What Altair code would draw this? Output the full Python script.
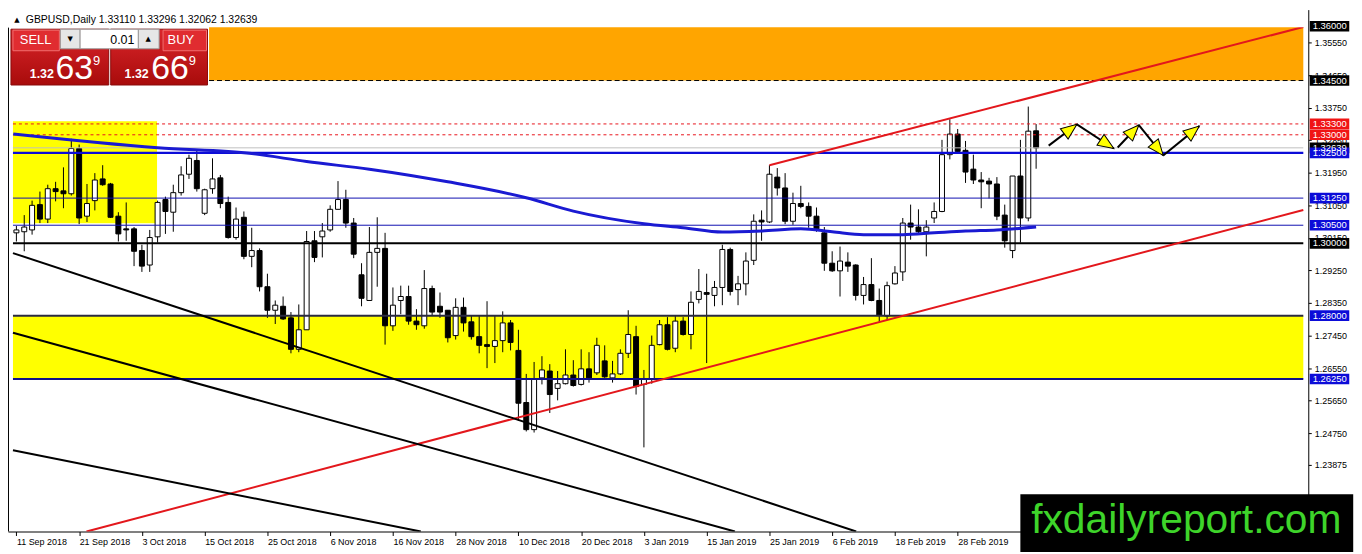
import math
import altair as alt
import pandas as pd

FONT = "Liberation Sans"
W, H = 1308, 525
SX, SY = W / 1316.5, H / 533.0
X_MIN, X_MAX = -0.4375, 164.0625
Y_MIN, Y_MAX = 1.22034, 1.36460

# ---------------- data (GBPUSD daily, bar index 0 = 11 Sep 2018) ----------------
opens = [1.3029, 1.3032, 1.3037, 1.3107, 1.3067, 1.3151, 1.3145, 1.3137, 1.3262, 1.3075,
         1.3118, 1.3178, 1.3164, 1.3075, 1.3040, 1.3040, 1.2980, 1.2940, 1.3018, 1.3121,
         1.3086, 1.3140, 1.3191, 1.3229, 1.3083, 1.3151, 1.3181, 1.3113, 1.3016, 1.3072,
         1.2964, 1.2980, 1.2880, 1.2815, 1.2826, 1.2794, 1.2707, 1.2761, 1.3007, 1.3018,
         1.3037, 1.3094, 1.3121, 1.3056, 1.2913, 1.2842, 1.2975, 1.2986, 1.2772, 1.2842,
         1.2853, 1.2785, 1.2772, 1.2875, 1.2826, 1.2815, 1.2745, 1.2823, 1.2783, 1.2742,
         1.2720, 1.2715, 1.2731, 1.2780, 1.2704, 1.2560, 1.2485, 1.2628, 1.2647, 1.2599,
         1.2612, 1.2636, 1.2610, 1.2653, 1.2642, 1.2675, 1.2628, 1.2639, 1.2696, 1.2742,
         1.2610, 1.2626, 1.2720, 1.2775, 1.2710, 1.2785, 1.2748, 1.2845, 1.2864, 1.2856,
         1.2878, 1.2983, 1.2872, 1.2888, 1.2953, 1.3064, 1.3059, 1.3183, 1.3153, 1.3061,
         1.3110, 1.3102, 1.3075, 1.3029, 1.2945, 1.2924, 1.2948, 1.2940, 1.2856, 1.2886,
         1.2842, 1.2799, 1.2888, 1.2921, 1.3056, 1.3045, 1.3032, 1.3070, 1.3088, 1.3245,
         1.3302, 1.3257, 1.3205, 1.3175, 1.3172, 1.3164, 1.3078, 1.2980, 1.3186, 1.3070,
         1.33110]
highs = [1.3048, 1.3078, 1.3118, 1.3143, 1.3162, 1.3170, 1.3210, 1.3289, 1.3273, 1.3164,
         1.3194, 1.3216, 1.3167, 1.3086, 1.3113, 1.3045, 1.2996, 1.3037, 1.3118, 1.3129,
         1.3162, 1.3213, 1.3245, 1.3259, 1.3151, 1.3235, 1.3189, 1.3129, 1.3099, 1.3088,
         1.3043, 1.2986, 1.2916, 1.2842, 1.2853, 1.2810, 1.2831, 1.3034, 1.3034, 1.3056,
         1.3105, 1.3172, 1.3148, 1.3070, 1.2945, 1.3045, 1.3072, 1.3029, 1.2878, 1.2883,
         1.2883, 1.2818, 1.2926, 1.2883, 1.2864, 1.2815, 1.2848, 1.2850, 1.2799, 1.2799,
         1.2840, 1.2799, 1.2812, 1.2788, 1.2761, 1.2639, 1.2672, 1.2688, 1.2666, 1.2647,
         1.2707, 1.2677, 1.2707, 1.2699, 1.2739, 1.2718, 1.2675, 1.2707, 1.2815, 1.2772,
         1.2650, 1.2745, 1.2788, 1.2796, 1.2799, 1.2796, 1.2867, 1.2929, 1.2916, 1.2896,
         1.2996, 1.2988, 1.2910, 1.2975, 1.3080, 1.3091, 1.3216, 1.3208, 1.3194, 1.3140,
         1.3159, 1.3113, 1.3099, 1.3045, 1.2978, 1.2991, 1.2975, 1.2942, 1.2907, 1.2959,
         1.2875, 1.2894, 1.2937, 1.3070, 1.3107, 1.3094, 1.3064, 1.3113, 1.3286, 1.3343,
         1.3316, 1.3283, 1.3245, 1.3197, 1.3181, 1.3183, 1.3107, 1.3186, 1.3286, 1.3378,
         1.33296]
lows = [1.3005, 1.2978, 1.3024, 1.3056, 1.3056, 1.3116, 1.3097, 1.3132, 1.3053, 1.3059,
        1.3091, 1.3159, 1.3070, 1.3005, 1.3007, 1.2937, 1.2921, 1.2921, 1.3002, 1.3026,
        1.3032, 1.3132, 1.3178, 1.3143, 1.3078, 1.3137, 1.3097, 1.3013, 1.3010, 1.2956,
        1.2934, 1.2867, 1.2794, 1.2777, 1.2788, 1.2696, 1.2699, 1.2761, 1.2948, 1.2961,
        1.3032, 1.3094, 1.3043, 1.2959, 1.2826, 1.2842, 1.2880, 1.2720, 1.2758, 1.2804,
        1.2775, 1.2761, 1.2764, 1.2799, 1.2794, 1.2726, 1.2734, 1.2756, 1.2734, 1.2696,
        1.2655, 1.2669, 1.2699, 1.2704, 1.2509, 1.2480, 1.2477, 1.2610, 1.2531, 1.2566,
        1.2610, 1.2604, 1.2607, 1.2615, 1.2636, 1.2628, 1.2615, 1.2636, 1.2683, 1.2582,
        1.2436, 1.2612, 1.2718, 1.2704, 1.2699, 1.2745, 1.2707, 1.2834, 1.2669, 1.2826,
        1.2829, 1.2856, 1.2829, 1.2856, 1.2940, 1.3007, 1.3056, 1.3132, 1.3053, 1.3051,
        1.3097, 1.3043, 1.3032, 1.2924, 1.2921, 1.2853, 1.2921, 1.2842, 1.2831, 1.2840,
        1.2783, 1.2788, 1.2886, 1.2896, 1.3010, 1.3024, 1.2964, 1.3056, 1.3086, 1.3232,
        1.3251, 1.3167, 1.3164, 1.3097, 1.3124, 1.3064, 1.2988, 1.2959, 1.3002, 1.3061,
        1.32062]
closes = [1.3037, 1.3045, 1.3105, 1.3067, 1.3151, 1.3143, 1.3137, 1.3262, 1.3070, 1.3110,
          1.3175, 1.3162, 1.3072, 1.3026, 1.3037, 1.2978, 1.2937, 1.3016, 1.3113, 1.3088,
          1.3140, 1.3189, 1.3235, 1.3151, 1.3148, 1.3178, 1.3110, 1.3016, 1.3067, 1.2964,
          1.2980, 1.2880, 1.2815, 1.2829, 1.2791, 1.2707, 1.2761, 1.3005, 1.2961, 1.3034,
          1.3094, 1.3121, 1.3056, 1.2970, 1.2848, 1.2975, 1.2986, 1.2772, 1.2829, 1.2853,
          1.2785, 1.2775, 1.2875, 1.2810, 1.2810, 1.2739, 1.2823, 1.2780, 1.2742, 1.2718,
          1.2715, 1.2731, 1.2780, 1.2726, 1.2558, 1.2485, 1.2626, 1.2650, 1.2582, 1.2612,
          1.2636, 1.2607, 1.2653, 1.2628, 1.2718, 1.2631, 1.2639, 1.2696, 1.2748, 1.2604,
          1.2626, 1.2718, 1.2775, 1.2707, 1.2785, 1.2748, 1.2837, 1.2867, 1.2859, 1.2878,
          1.2983, 1.2867, 1.2888, 1.2951, 1.3061, 1.3059, 1.3191, 1.3153, 1.3061, 1.3110,
          1.3102, 1.3075, 1.3040, 1.2945, 1.2924, 1.2951, 1.2937, 1.2856, 1.2886, 1.2842,
          1.2802, 1.2883, 1.2918, 1.3056, 1.3045, 1.3032, 1.3045, 1.3088, 1.3245, 1.3302,
          1.3254, 1.3197, 1.3175, 1.3170, 1.3164, 1.3075, 1.3007, 1.3186, 1.3070, 1.3310,
          1.32639]

date_labels = ["11 Sep 2018", "21 Sep 2018", "3 Oct 2018", "15 Oct 2018", "25 Oct 2018",
               "6 Nov 2018", "16 Nov 2018", "28 Nov 2018", "10 Dec 2018", "20 Dec 2018",
               "3 Jan 2019", "15 Jan 2019", "25 Jan 2019", "6 Feb 2019", "18 Feb 2019",
               "28 Feb 2019"]
label_step = 8

tick_prices = [1.35550, 1.34650, 1.33750, 1.32850, 1.31950, 1.31050, 1.30150, 1.29250,
               1.28350, 1.27450, 1.26550, 1.25650, 1.24750, 1.23875, 1.22975]

# moving average (blue curve) read at bar positions
ma_bars = [-0.4, 18, 30, 37, 45, 55, 65, 71, 80, 85, 90, 95, 100, 104, 108, 113, 117, 121, 125, 130]
ma_values = [1.3302, 1.3264, 1.3248, 1.3226, 1.3205, 1.3170, 1.3126, 1.3089, 1.3054, 1.3043,
             1.3031, 1.3034, 1.3040, 1.3032, 1.3024, 1.3024, 1.3029, 1.3034, 1.3037, 1.3045]

# zones
zone_x1 = [-0.4375, 24.56, -0.4375]
zone_x2 = [17.93, X_MAX, X_MAX]
zone_y1 = [1.30552, 1.3450, 1.2625]
zone_y2 = [1.33375, 1.3600, 1.2800]
zone_fill = ["#ffff00", "#ffa500", "#ffff00"]

# horizontal levels
solid_prices = [1.32639, 1.3250, 1.3125, 1.3050, 1.3000, 1.2800, 1.2625]
solid_colors = ["#c0c0c0", "#0c0cd8", "#1010b0", "#1010b0", "#000000", "#2a2a40", "#101088"]
solid_widths = [1, 2.5, 1, 1, 2, 2, 2]
red_dash_prices = [1.3330, 1.3300]
black_dash_prices = [1.3600, 1.3450]

# trend lines
trend_x1 = [96, 8.94, -0.4375, -0.4375, -0.4375]
trend_y1 = [1.3216, 1.22034, 1.2973, 1.2753, 1.2428]
trend_x2 = [X_MAX, X_MAX, 107.06, 91.6, 51.56]
trend_y2 = [1.3598, 1.3092, 1.22034, 1.22034, 1.22034]
trend_colors = ["#e3171c", "#e3171c", "#000000", "#000000", "#000000"]

# projected zigzag arrows
arrow_paths = [
    [(131.6, 1.3270), (135.2, 1.3329), (139.9, 1.3262)],
    [(140.4, 1.3265), (143.1, 1.3327), (146.2, 1.3243), (150.8, 1.3324)],
]

# price labels on the right
plabel_prices = [1.3600, 1.3450, 1.3330, 1.3300, 1.32639, 1.3250, 1.3125, 1.3050, 1.3000, 1.2800, 1.2625]
plabel_colors = ["#000000", "#000000", "#f01414", "#f01414", "#000000", "#0c0cd8", "#0c0cd8",
                 "#0c0cd8", "#000000", "#0c0cd8", "#0c0cd8"]

header_text = "GBPUSD,Daily  1.33110 1.33296 1.32062 1.32639"

# ---------------- scales / axes ----------------
XS = alt.Scale(domain=[X_MIN, X_MAX], nice=False, zero=False)
YS = alt.Scale(domain=[Y_MIN, Y_MAX], nice=False, zero=False)
label_expr = "[" + ",".join("'%s'" % d for d in date_labels) + "][round(datum.value/%d)]" % label_step
X_AX = alt.Axis(values=list(range(0, label_step * len(date_labels), label_step)), labelExpr=label_expr,
                labelAlign="left", labelFont=FONT, labelFontSize=9, labelColor="black",
                tickColor="black", tickSize=4, domainColor="black", labelPadding=2, grid=False,
                title=None, labelFlush=False, labelOverlap=False)
Y_AX = alt.Axis(orient="right", values=tick_prices, format=".5f", labelFont=FONT, labelFontSize=9,
                labelColor="black", tickColor="black", tickSize=3, domainColor="black",
                labelPadding=3, grid=False, title=None, labelOverlap=False, labelFlush=False)


def X(f="x"):
    return alt.X(f"{f}:Q", scale=XS, axis=X_AX)


def Y(f="y"):
    return alt.Y(f"{f}:Q", scale=YS, axis=Y_AX)


dummy = pd.DataFrame({"d": [0]})
layers = []

# zones
zones = pd.DataFrame({"x": zone_x1, "x2": zone_x2, "y": zone_y1, "y2": zone_y2, "fill": zone_fill})
layers.append(alt.Chart(zones).mark_rect(clip=True).encode(
    x=X(), x2="x2:Q", y=Y(), y2="y2:Q", fill=alt.Fill("fill:N", scale=None)))

# candles
n = len(closes)
cd = pd.DataFrame({"x": list(range(n)), "o": opens, "h": highs, "l": lows, "c": closes})
cd["fill"] = ["#ffffff" if c >= o else "#000000" for o, c in zip(opens, closes)]
layers.append(alt.Chart(cd).mark_rule(color="black", strokeWidth=1).encode(
    x=X(), y=Y("l"), y2="h:Q"))
layers.append(alt.Chart(cd).mark_bar(width=5, stroke="black", strokeWidth=1).encode(
    x=X(), y=Y("o"), y2="c:Q", fill=alt.Fill("fill:N", scale=None)))

# horizontal levels
sl = pd.DataFrame({"x": [X_MIN] * len(solid_prices), "x2": [X_MAX] * len(solid_prices),
                   "y": solid_prices, "col": solid_colors, "w": solid_widths})
layers.append(alt.Chart(sl).mark_rule().encode(
    x=X(), x2="x2:Q", y=Y(), color=alt.Color("col:N", scale=None),
    strokeWidth=alt.StrokeWidth("w:Q", scale=None)))
rd = pd.DataFrame({"x": [X_MIN] * 2, "x2": [X_MAX] * 2, "y": red_dash_prices})
layers.append(alt.Chart(rd).mark_rule(color="#e8141c", strokeWidth=1, strokeDash=[3, 3]).encode(
    x=X(), x2="x2:Q", y=Y()))
bd = pd.DataFrame({"x": [24.56] * 2, "x2": [X_MAX] * 2, "y": black_dash_prices})
layers.append(alt.Chart(bd).mark_rule(color="#000000", strokeWidth=1, strokeDash=[5, 3]).encode(
    x=X(), x2="x2:Q", y=Y()))

# trend lines
td = pd.DataFrame({"x": trend_x1, "y": trend_y1, "x2": trend_x2, "y2": trend_y2, "col": trend_colors})
layers.append(alt.Chart(td).mark_rule(strokeWidth=2, clip=True).encode(
    x=X(), y=Y(), x2="x2:Q", y2="y2:Q", color=alt.Color("col:N", scale=None)))

# moving average
mad = pd.DataFrame({"x": ma_bars, "y": ma_values})
layers.append(alt.Chart(mad).mark_line(color="#1a1ad2", strokeWidth=3, interpolate="monotone", clip=True).encode(
    x=X(), y=Y()))

# arrows
px_bar = W / (X_MAX - X_MIN)
px_price = H / (Y_MAX - Y_MIN)
seg_rows, head_rows = [], []
R = 10
for path in arrow_paths:
    for (x1, y1), (x2, y2) in zip(path[:-1], path[1:]):
        seg_rows.append({"x": x1, "y": y1, "x2": x2, "y2": y2})
        dxp = (x2 - x1) * px_bar
        dyp = (y2 - y1) * px_price
        L = math.hypot(dxp, dyp)
        t = 1 - R / L
        ang = math.degrees(math.atan2(dxp, dyp)) % 360
        head_rows.append({"x": x1 + t * (x2 - x1), "y": y1 + t * (y2 - y1), "ang": ang})
layers.append(alt.Chart(pd.DataFrame(seg_rows)).mark_rule(color="black", strokeWidth=2).encode(
    x=X(), y=Y(), x2="x2:Q", y2="y2:Q"))
layers.append(alt.Chart(pd.DataFrame(head_rows)).mark_point(
    shape="M0,-1L0.65,0.6L-0.65,0.6Z", size=(2 * R) ** 2, filled=True, fill="#ffff00",
    stroke="black", strokeWidth=1, opacity=1).encode(
    x=X(), y=Y(), angle=alt.Angle("ang:Q", scale=None)))

# left frame
layers.append(alt.Chart(dummy).mark_rule(color="black", strokeWidth=1).encode(
    x=alt.value(0.5), y=alt.value(18), y2=alt.value(H)))

# price labels at the right
pl = pd.DataFrame({"y": plabel_prices, "col": plabel_colors, "t": ["%.5f" % p for p in plabel_prices]})
layers.append(alt.Chart(pl).mark_point(
    shape="M-1,-0.27L1,-0.27L1,0.27L-1,0.27Z", size=(40 * SX) ** 2, filled=True, opacity=1,
    strokeWidth=0).encode(x=alt.value(1338 * SX), y=Y(), color=alt.Color("col:N", scale=None)))
layers.append(alt.Chart(pl).mark_text(align="left", baseline="middle", font=FONT, fontSize=9.5,
                                      color="white").encode(
    x=alt.value(1321 * SX), y=Y(), text="t:N"))


def rect_px(x1, y1, x2, y2, fill, stroke=None, sw=1):
    kw = {"fill": fill}
    if stroke:
        kw.update(stroke=stroke, strokeWidth=sw)
    else:
        kw.update(strokeWidth=0)
    return alt.Chart(dummy).mark_rect(**kw).encode(
        x=alt.value(x1 * SX), x2=alt.value(x2 * SX), y=alt.value(y1 * SY), y2=alt.value(y2 * SY))


def text_px(x, y, s, size, color="black", align="left", baseline="middle", font=FONT, weight="normal"):
    return alt.Chart(dummy).mark_text(text=s, fontSize=size, color=color, align=align,
                                      baseline=baseline, font=font, fontWeight=weight).encode(
        x=alt.value(x * SX), y=alt.value(y * SY))


grad = {"gradient": "linear", "x1": 0, "y1": 0, "x2": 0, "y2": 1,
        "stops": [{"offset": 0, "color": "#da262b"}, {"offset": 1, "color": "#a80b0b"}]}

# header
layers.append(rect_px(0, 0, 1316, 18, "#ffffff"))
layers.append(text_px(9, 10.5, "▲", 7, font="DejaVu Sans", align="center"))
layers.append(text_px(18, 11, header_text, 10.5))

# trade widget
layers.append(rect_px(3, 20, 102, 77, grad, "#8a0a0a"))
layers.append(rect_px(104, 20, 202, 77, grad, "#8a0a0a"))
layers.append(rect_px(5, 21, 52, 42, "#e02c30", "#f07070"))
layers.append(rect_px(157, 21, 201, 42, "#e02c30", "#f07070"))
layers.append(rect_px(53, 20, 73, 40, "#e6e6e6", "#9a9a9a"))
layers.append(rect_px(73, 20, 132, 40, "#ffffff", "#9a9a9a"))
layers.append(rect_px(132, 20, 153, 40, "#e6e6e6", "#9a9a9a"))
layers.append(text_px(28, 31, "SELL", 13, "white", align="center"))
layers.append(text_px(175, 31, "BUY", 13, "white", align="center"))
layers.append(text_px(63, 30, "▼", 7, font="DejaVu Sans", align="center"))
layers.append(text_px(142, 30, "▲", 7, font="DejaVu Sans", align="center"))
layers.append(text_px(128, 31, "0.01", 12.5, align="right"))
layers.append(text_px(22, 70, "1.32", 12.5, "white", baseline="alphabetic", weight="bold"))
layers.append(text_px(48, 71, "63", 34, "white", baseline="alphabetic"))
layers.append(text_px(86, 57, "9", 13, "white", baseline="alphabetic"))
layers.append(text_px(118, 70, "1.32", 12.5, "white", baseline="alphabetic", weight="bold"))
layers.append(text_px(145, 71, "66", 34, "white", baseline="alphabetic"))
layers.append(text_px(183, 57, "9", 13, "white", baseline="alphabetic"))

# logo
layers.append(rect_px(1025, 495, 1362, 554, "#000000"))
layers.append(text_px(1193, 535, "fxdailyreport.com", 41, "#3ed42a", align="center", baseline="alphabetic"))

chart = alt.layer(*layers).properties(
    width=W, height=H,
    autosize=alt.AutoSizeParams(type="none"),
    padding={"left": 0, "top": 0, "right": 46, "bottom": 21},
    background="white",
).configure_view(stroke=None)

chart.save("out.html", embed_options={"renderer": "svg", "actions": False})
